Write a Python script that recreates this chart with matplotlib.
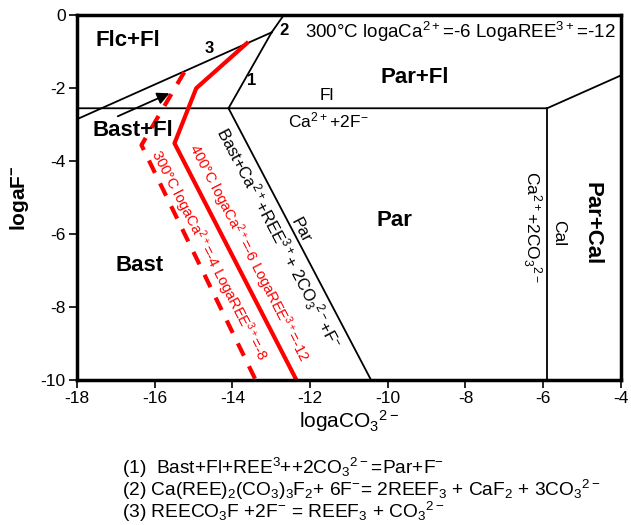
import matplotlib.pyplot as plt

plt.rcParams['font.family'] = ['Liberation Sans', 'DejaVu Sans']
plt.rcParams['mathtext.default'] = 'regular'
plt.rcParams['axes.unicode_minus'] = False

# phase boundaries (logaCO3 2-, logaF-)
fl_x = [-18, -5.9, -4]
fl_y = [-2.55, -2.55, -1.65]
cal_x = [-5.9, -5.9]
cal_y = [-2.55, -10]
par_x = [-14.1, -10.43]
par_y = [-2.55, -10]
r1_x = [-14.1, -12.99]
r1_y = [-2.55, -0.47]
r2_x = [-12.99, -12.68]
r2_y = [-0.47, 0]
r3_x = [-18, -12.99]
r3_y = [-2.85, -0.47]

# 400C boundary and 300C boundary
red400_x = [-13.63, -14.93, -15.49, -12.35]
red400_y = [-0.77, -2.0, -3.51, -10]
red300_x = [-15.24, -16.34, -13.4]
red300_y = [-1.56, -3.56, -10]

fig = plt.figure(figsize=(6.31, 5.25), dpi=100)
ax = fig.add_axes([0.122, 0.276, 0.862, 0.695])

ax.plot(fl_x, fl_y, color='black', lw=1.3)
ax.plot(cal_x, cal_y, color='black', lw=1.3)
ax.plot(par_x, par_y, color='black', lw=1.3)
ax.plot(r1_x, r1_y, color='black', lw=1.3)
ax.plot(r2_x, r2_y, color='black', lw=1.3)
ax.plot(r3_x, r3_y, color='black', lw=1.3)
ax.plot(red400_x, red400_y, color='red', lw=3)
ax.plot(red300_x, red300_y, color='red', lw=3, dashes=(3.3, 2.8))

ax.annotate('', xy=(-15.62, -2.14), xytext=(-16.95, -2.77),
            arrowprops=dict(arrowstyle='-|>', color='black', lw=1.3,
                            mutation_scale=18, shrinkA=0, shrinkB=0))

ax.set_xlim(-18, -4)
ax.set_ylim(-10, 0)
ax.set_xticks([-18, -16, -14, -12, -10, -8, -6, -4])
ax.set_yticks([0, -2, -4, -6, -8, -10])
ax.tick_params(labelsize=12.5, length=6, width=1.2, direction='out', pad=2)
for s in ax.spines.values():
    s.set_linewidth(2.5)

ax.set_xlabel(r'logaCO$_3$$^{2-}$', fontsize=15, labelpad=1)
ax.set_ylabel(r'logaF$^{-}$', fontsize=15, fontweight='bold')
ax.yaxis.set_label_coords(-0.085, 0.5)

big = dict(fontsize=16, fontweight='bold', ha='center', va='center')
ax.text(-16.7, -0.68, 'Flc+Fl', **big)
ax.text(-9.3, -1.7, 'Par+Fl', **big)
ax.text(-16.57, -3.15, 'Bast+Fl', **big)
ax.text(-16.39, -6.85, 'Bast', **big)
ax.text(-9.82, -5.62, 'Par', **big)
ax.text(-4.75, -5.7, 'Par+Cal', rotation=-90, **big)

ax.text(-5.6, -5.97, 'Cal', rotation=-90, fontsize=12.5, ha='center', va='center')
ax.text(-6.29, -5.81, r'Ca$^{2+}$+2CO$_3$$^{2-}$', rotation=-90, fontsize=12.5,
        ha='center', va='center')
ax.text(-11.58, -2.19, 'Fl', fontsize=12.5, ha='center', va='center')
ax.text(-11.53, -2.88, r'Ca$^{2+}$+2F$^{-}$', fontsize=12.5, ha='center', va='center')

ax.text(-13.5, -1.78, '1', fontsize=12, fontweight='bold', ha='center', va='center')
ax.text(-12.68, -0.41, '2', fontsize=12, fontweight='bold', ha='center', va='center')
ax.text(-14.6, -0.9, '3', fontsize=12, fontweight='bold', ha='center', va='center')

ax.text(-8.13, -0.47, r'300$\degree$C logaCa$^{2+}$=-6 LogaREE$^{3+}$=-12',
        fontsize=13.5, ha='center', va='center')

ax.text(-12.81, -6.11, r'Bast+Ca$^{2+}$+REE$^{3+}$+ 2CO$_3$$^{2-}$+F$^{-}$',
        rotation=-62.3, fontsize=12, ha='center', va='center', rotation_mode='anchor')
ax.text(-12.25, -5.89, 'Par', rotation=-62.3, fontsize=12, ha='center', va='center',
        rotation_mode='anchor')

ax.text(-13.58, -6.52, r'400$\degree$C logaCa$^{2+}$=-6 LogaREE$^{3+}$=-12',
        rotation=-62.6, fontsize=10.5, color='red', ha='center', va='center',
        rotation_mode='anchor')
ax.text(-14.6, -6.58, r'300$\degree$C logaCa$^{2+}$=-4 LogaREE$^{3+}$=-8',
        rotation=-62.6, fontsize=10.5, color='red', ha='center', va='center',
        rotation_mode='anchor')

eqs = [
    r'(1)  Bast+Fl+REE$^{3}$++2CO$_3$$^{2-}$=Par+F$^{-}$',
    r'(2) Ca(REE)$_2$(CO$_3$)$_3$F$_2$+ 6F$^{-}$= 2REEF$_3$ + CaF$_2$ + 3CO$_3$$^{2-}$',
    r'(3) REECO$_3$F +2F$^{-}$ = REEF$_3$ + CO$_3$$^{2-}$',
]
for i, e in enumerate(eqs):
    fig.text(0.193, 1 - (468 + 22 * i) / 525, e, fontsize=13.8, ha='left', va='center')

fig.savefig('out.png', dpi=100)
